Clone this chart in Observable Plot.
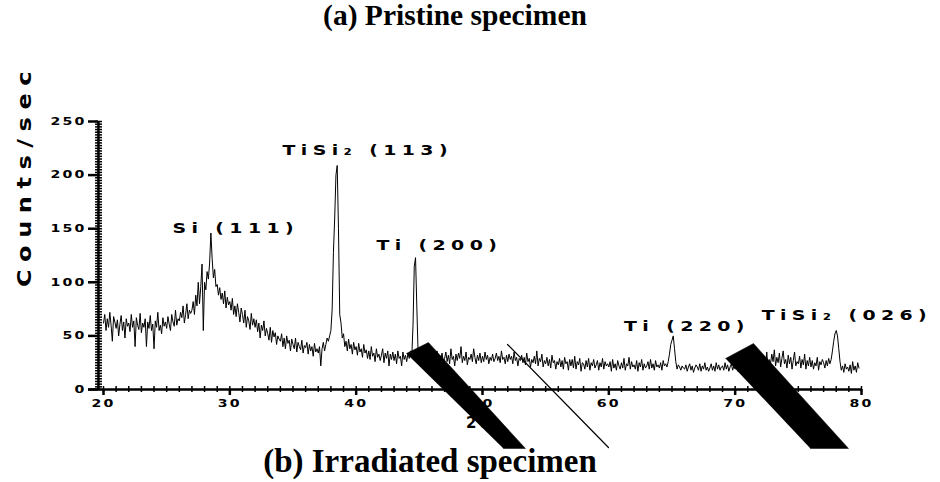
<!DOCTYPE html>
<html><head><meta charset="utf-8">
<script src="https://cdn.jsdelivr.net/npm/d3@7"></script>
<script src="https://cdn.jsdelivr.net/npm/@observablehq/plot@0.6"></script>
<style>
body{margin:0;background:#fff;}
#wrap{position:relative;width:940px;height:482px;overflow:hidden;background:#fff;}
#wrap svg{position:absolute;left:0;top:0;}
.title{position:absolute;font-family:"Liberation Serif","Times New Roman",serif;font-weight:bold;white-space:nowrap;transform:translateX(-50%);line-height:1;color:#000;}
</style></head><body><div id="wrap"></div>
<script>
// XRD pattern, counts/sec sampled every 0.1 degree from 20.0 to 79.9 (2-theta)
const startAngle = 20, stepAngle = 0.1;
const counts = [
  62,70,55,66,58,72,60,45,68,63,   // 20
  57,65,50,61,69,55,63,48,66,59,   // 21
  62,54,70,58,64,40,67,60,56,71,   // 22
  53,62,58,66,40,63,57,69,55,61,   // 23
  38,64,58,72,55,60,52,67,59,63,   // 24
  57,68,61,55,70,63,59,74,60,66,   // 25
  64,72,67,78,62,70,80,66,74,71,   // 26
  74,82,70,88,78,100,80,96,117,55, // 27
  100,93,110,103,118,146,122,104,112,96, // 28
  98,88,95,84,90,80,92,76,86,79,   // 29
  82,74,85,70,78,68,80,72,63,76,   // 30
  70,62,74,58,68,64,56,71,60,66,   // 31
  58,65,54,62,48,60,55,64,50,57,   // 32
  52,46,58,44,55,49,53,42,50,47,   // 33
  45,52,40,48,38,50,43,46,36,47,   // 34
  42,38,48,35,44,40,37,46,34,41,   // 35
  39,44,33,42,36,40,31,43,35,38,   // 36
  34,40,22,38,44,36,42,48,45,50,   // 37
  55,75,128,160,200,209,150,70,62,48, // 38
  52,40,45,36,47,38,42,33,44,37,   // 39
  40,32,43,35,38,30,42,34,37,29,   // 40
  36,28,40,31,34,26,38,30,33,27,   // 41
  32,38,25,34,29,36,22,33,28,35,   // 42
  27,33,24,36,29,31,22,35,28,32,   // 43
  26,34,29,36,30,60,115,123,78,35, // 44
  28,32,25,34,27,31,24,35,29,26,   // 45
  30,24,33,27,36,22,31,28,34,25,   // 46
  29,35,26,32,24,38,28,31,22,33,   // 47
  27,34,29,40,25,31,27,35,23,30,   // 48
  28,33,26,38,30,24,32,27,34,25,   // 49
  31,26,35,28,32,24,30,27,33,26,   // 50
  29,34,27,31,25,36,28,30,24,32,   // 51
  26,33,28,31,24,35,27,30,22,29,   // 52
  27,32,25,30,23,34,26,29,21,28,   // 53
  25,31,24,36,22,29,26,33,21,27,   // 54
  24,30,22,28,20,32,25,27,19,26,   // 55
  23,29,21,27,19,30,24,26,18,28,   // 56
  22,28,20,31,19,26,23,29,17,25,   // 57
  24,19,27,21,29,18,25,22,28,20,   // 58
  23,27,18,25,21,29,19,26,22,24,   // 59
  21,26,17,28,20,24,18,27,22,19,   // 60
  25,20,29,18,24,22,30,19,26,21,   // 61
  23,19,27,17,25,21,28,18,24,20,   // 62
  22,26,19,28,20,24,18,27,21,23,   // 63
  20,25,18,27,22,24,21,26,33,42,   // 64
  46,50,38,26,19,23,21,18,22,20,   // 65
  19,23,17,21,24,18,22,16,20,23,   // 66
  21,18,24,17,22,19,25,18,21,17,   // 67
  20,24,18,22,17,25,19,23,18,21,   // 68
  22,18,25,19,23,17,21,24,18,22,   // 69
  19,23,17,21,25,18,22,20,24,19,   // 70
  21,17,23,19,26,18,22,20,24,21,   // 71
  23,27,19,31,22,35,20,28,24,33,   // 72
  26,37,22,30,25,34,21,29,36,24,   // 73
  28,20,32,24,30,19,27,35,22,26,   // 74
  24,31,20,28,23,33,19,27,22,30,   // 75
  21,27,19,25,22,30,18,26,23,28,   // 76
  25,20,27,22,29,24,28,36,45,52,   // 77
  55,50,38,26,18,22,16,24,19,21,   // 78
  17,23,15,26,18,22,16,25,20      // 79
];
const series = counts.map((c, i) => ({angle: startAngle + i * stepAngle, count: c}));

// axis ticks
const xTicks = [20, 30, 40, 50, 60, 70, 80];
const yTicks = [0, 50, 100, 150, 200, 250];
const xMinor = d3.range(20, 81, 1);
const yMinor = d3.range(0, 250.01, 2.5);

// peak annotations (angle of label start, counts height)
const peakNames = ["Si (111)", "TiSi\u2082 (113)", "Ti (200)", "Ti (220)", "TiSi\u2082 (026)"];
const peakAngles = [25.46, 34.17, 41.6, 61.2, 72.1];
const peakHeights = [150, 223, 134, 58.8, 69];
const peaks = peakNames.map((n, i) => ({name: n, angle: peakAngles[i], h: peakHeights[i]}));

// overlay pointer shapes of the original figure (data units)
const pointerA = [{x:43.98,y:33.6},{x:45.72,y:43.8},{x:53.40,y:-55},{x:51.66,y:-55}];
const pointerB = [{x:69.24,y:28.9},{x:71.45,y:42.9},{x:78.97,y:-55},{x:75.96,y:-55}];
const pointerLine = [{x:51.98,y:42.0},{x:59.97,y:-54.1}];

const yLabel = "Counts/sec";
const xLabel = "2\u03b8";

const plot = Plot.plot({
  width: 940, height: 482,
  marginLeft: 103, marginRight: 79, marginTop: 121, marginBottom: 93,
  x: {domain: [20, 80]},
  y: {domain: [0, 250]},
  style: {fontFamily: "DejaVu Sans", color: "black", background: "white", overflow: "visible"},
  marks: [
    Plot.line(series, {x: "angle", y: "count", stroke: "black", strokeWidth: 1}),
    Plot.ruleY([0], {x1: 18.81, x2: 80, strokeWidth: 2.5}),
    Plot.ruleX([19.6], {y1: 0, y2: 250, strokeWidth: 2.5}),
    Plot.ruleY(yMinor, {x1: 19.37, x2: 19.92, strokeWidth: 1.5}),
    Plot.ruleX(xMinor, {y1: -2.8, y2: 2.8, strokeWidth: 1.5}),
    Plot.axisY(yTicks, {tickSize: 10, dx: -5, tickPadding: 2, strokeWidth: 2.5, fontSize: 10.5, fontWeight: "bold", label: null}),
    Plot.axisX(xTicks, {tickSize: 6, tickPadding: 4, strokeWidth: 2.5, fontSize: 10.5, fontWeight: "bold", label: null}),
    Plot.text(peaks, {x: "angle", y: "h", text: "name", textAnchor: "start", fontSize: 14, fontWeight: "bold"}),
    Plot.text([yLabel], {frameAnchor: "left", textAnchor: "middle", dx: -79, dy: -80, rotate: -90, fontSize: 20, fontWeight: "bold"}),
    Plot.line(pointerA, {x: "x", y: "y", fill: "black", stroke: "black", strokeWidth: 0.5}),
    Plot.line(pointerB, {x: "x", y: "y", fill: "black", stroke: "black", strokeWidth: 0.5}),
    Plot.line(pointerLine, {x: "x", y: "y", stroke: "black", strokeWidth: 1.2}),
    Plot.text([xLabel], {x: 49.76, y: -31.7, fontSize: 15, fontWeight: "bold"})
  ]
});

// widen the text the way the original extended typeface looks
function widen(el, s, ls) {
  el.style.letterSpacing = ls + "px";
  const tr = el.getAttribute("transform");
  if (tr) el.setAttribute("transform", tr + ` scale(${s},1)`);
}
d3.select(plot).selectAll("text").each(function() {
  const t = this.textContent;
  if (peakNames.includes(t)) widen(this, 1.35, 4.0);
  else if (t === yLabel) widen(this, 1.2, 6.3);
  else if (t === xLabel) widen(this, 1.0, 3);
  else if (/^\d+$/.test(t)) widen(this, 1.35, 1.6);
});

const wrap = document.getElementById("wrap");
wrap.appendChild(plot);
const t1 = document.createElement("div");
t1.className = "title"; t1.textContent = "(a) Pristine specimen";
t1.style.left = "455px"; t1.style.top = "1px"; t1.style.fontSize = "29.5px";
wrap.appendChild(t1);
const t2 = document.createElement("div");
t2.className = "title"; t2.textContent = "(b) Irradiated specimen";
t2.style.left = "430px"; t2.style.top = "445px"; t2.style.fontSize = "33px";
wrap.appendChild(t2);
</script></body></html>
